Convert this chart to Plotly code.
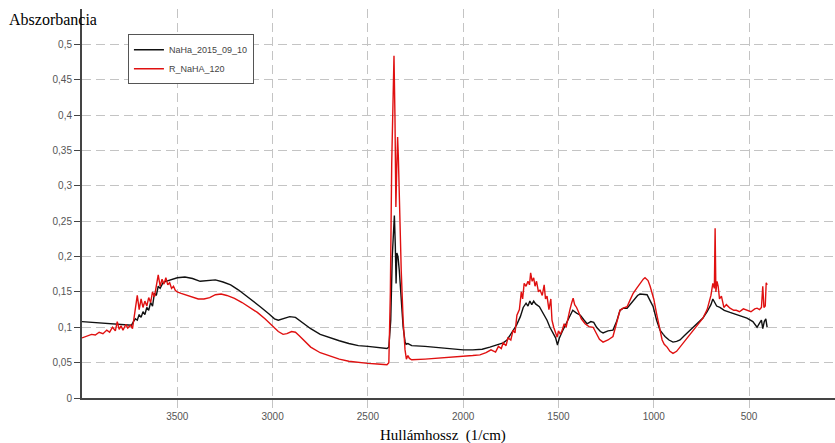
import plotly.graph_objects as go

# ---- data ----
black_x = [4000, 3950, 3900, 3850, 3800, 3760, 3740, 3730, 3720, 3710, 3700, 3690, 3680, 3670, 3660, 3650,
           3640, 3630, 3620, 3610, 3600, 3590, 3575, 3560, 3540, 3500, 3460, 3420, 3380, 3340, 3300, 3260,
           3220, 3180, 3140, 3100, 3060, 3020, 2990, 2970, 2940, 2910, 2880, 2850, 2800, 2750, 2700, 2650,
           2600, 2550, 2500, 2450, 2400, 2390, 2380, 2372, 2365, 2361, 2356, 2352, 2348, 2342, 2335, 2325,
           2315, 2305, 2300, 2290, 2270, 2200, 2100, 2000, 1950, 1900, 1860, 1820, 1790, 1770, 1745, 1720,
           1700, 1685, 1670, 1660, 1650, 1640, 1630, 1620, 1600, 1580, 1560, 1545, 1530, 1515, 1505, 1495,
           1480, 1460, 1440, 1425, 1405, 1385, 1365, 1350, 1330, 1315, 1300, 1280, 1266, 1240, 1214, 1195,
           1177, 1160, 1140, 1120, 1108, 1085, 1072, 1050, 1035, 1020, 1003, 985, 967, 950, 941, 920,
           899, 880, 862, 840, 810, 780, 742, 720, 700, 690, 680, 670, 653, 630, 600, 560,
           511, 480, 458, 445, 435, 428, 420, 412, 405]
black_y = [0.108, 0.107, 0.106, 0.105, 0.104, 0.104, 0.103, 0.108, 0.112, 0.110, 0.118, 0.114, 0.122, 0.118, 0.128, 0.124,
           0.135, 0.130, 0.148, 0.145, 0.158, 0.155, 0.163, 0.165, 0.167, 0.170, 0.171, 0.169, 0.165, 0.166, 0.167, 0.164,
           0.160, 0.153, 0.145, 0.137, 0.128, 0.119, 0.112, 0.110, 0.113, 0.115, 0.114, 0.108, 0.098, 0.090, 0.085, 0.081,
           0.077, 0.074, 0.073, 0.071, 0.070, 0.072, 0.110, 0.200, 0.250, 0.258, 0.215, 0.162, 0.205, 0.200, 0.180, 0.140,
           0.100, 0.080, 0.076, 0.077, 0.074, 0.073, 0.070, 0.068, 0.068, 0.069, 0.072, 0.075, 0.078, 0.082, 0.092, 0.103,
           0.115, 0.128, 0.134, 0.130, 0.137, 0.132, 0.137, 0.133, 0.129, 0.120, 0.110, 0.100, 0.092, 0.085, 0.075, 0.085,
           0.094, 0.105, 0.118, 0.124, 0.120, 0.117, 0.110, 0.105, 0.108, 0.107, 0.100, 0.094, 0.092, 0.095, 0.096, 0.108,
           0.124, 0.127, 0.127, 0.134, 0.138, 0.145, 0.147, 0.147, 0.146, 0.138, 0.129, 0.110, 0.096, 0.090, 0.087, 0.082,
           0.079, 0.080, 0.082, 0.088, 0.096, 0.104, 0.113, 0.122, 0.132, 0.140, 0.135, 0.130, 0.128, 0.124, 0.121, 0.117,
           0.113, 0.108, 0.100, 0.106, 0.110, 0.098, 0.108, 0.112, 0.100]

red_x = [4000, 3975, 3950, 3930, 3910, 3890, 3870, 3855, 3840, 3825, 3815, 3805, 3795, 3785, 3770, 3760,
         3745, 3735, 3725, 3715, 3710, 3700, 3690, 3680, 3670, 3660, 3650, 3640, 3630, 3620, 3610, 3600,
         3590, 3580, 3570, 3560, 3550, 3540, 3530, 3520, 3510, 3500, 3480, 3450, 3420, 3390, 3360, 3330,
         3300, 3270, 3240, 3200, 3160, 3120, 3080, 3040, 3000, 2970, 2945, 2925, 2900, 2880, 2860, 2830,
         2800, 2750, 2700, 2650, 2600, 2550, 2500, 2450, 2400, 2390, 2382, 2375, 2368, 2363, 2358, 2353,
         2348, 2344, 2340, 2333, 2325, 2315, 2305, 2298, 2290, 2282, 2270, 2200, 2100, 2050, 2000, 1950,
         1912, 1880, 1854, 1830, 1815, 1800, 1790, 1775, 1765, 1750, 1738, 1728, 1718, 1705, 1695, 1688,
         1680, 1670, 1660, 1652, 1646, 1638, 1630, 1623, 1615, 1605, 1597, 1585, 1575, 1568, 1560, 1550,
         1540, 1534, 1525, 1515, 1507, 1500, 1490, 1480, 1470, 1460, 1450, 1440, 1430, 1423, 1415, 1405,
         1395, 1380, 1360, 1340, 1318, 1300, 1285, 1266, 1240, 1214, 1195, 1177, 1160, 1140, 1125, 1108,
         1090, 1072, 1055, 1046, 1030, 1019, 1000, 985, 970, 956, 945, 930, 915, 899, 880, 862,
         840, 810, 780, 742, 720, 700, 690, 682, 678, 674, 668, 662, 655, 645, 632, 619,
         600, 580, 567, 550, 530, 511, 490, 470, 458, 445, 435, 428, 422, 415, 410, 405]
red_y = [0.085, 0.087, 0.090, 0.089, 0.093, 0.091, 0.096, 0.093, 0.100, 0.095, 0.108, 0.097, 0.102, 0.096, 0.104, 0.099,
         0.103, 0.098, 0.118, 0.132, 0.145, 0.125, 0.140, 0.128, 0.137, 0.130, 0.142, 0.135, 0.150, 0.143, 0.160, 0.174,
         0.158, 0.168, 0.161, 0.170, 0.160, 0.163, 0.155, 0.158, 0.152, 0.150, 0.148, 0.145, 0.142, 0.140, 0.140, 0.142,
         0.146, 0.147, 0.145, 0.141, 0.135, 0.128, 0.121, 0.112, 0.102, 0.094, 0.090, 0.091, 0.094, 0.093, 0.088, 0.080,
         0.072, 0.064, 0.059, 0.055, 0.052, 0.050, 0.049, 0.048, 0.047, 0.050, 0.150, 0.330, 0.440, 0.484, 0.400, 0.270,
         0.330, 0.369, 0.340, 0.260, 0.180, 0.110, 0.068, 0.055, 0.060, 0.056, 0.054, 0.055, 0.057, 0.058, 0.058, 0.060,
         0.061, 0.064, 0.068, 0.065, 0.073, 0.070, 0.078, 0.074, 0.085, 0.082, 0.096, 0.092, 0.117, 0.125, 0.150, 0.140,
         0.162, 0.158, 0.165, 0.160, 0.177, 0.165, 0.170, 0.158, 0.165, 0.150, 0.153, 0.145, 0.160, 0.140, 0.144, 0.125,
         0.140, 0.110, 0.100, 0.092, 0.086, 0.095, 0.090, 0.096, 0.105, 0.100, 0.115, 0.125, 0.135, 0.141, 0.132, 0.128,
         0.122, 0.112, 0.105, 0.101, 0.100, 0.090, 0.083, 0.079, 0.082, 0.087, 0.105, 0.124, 0.127, 0.129, 0.138, 0.148,
         0.155, 0.162, 0.168, 0.170, 0.166, 0.158, 0.140, 0.119, 0.100, 0.082, 0.076, 0.072, 0.066, 0.063, 0.066, 0.072,
         0.080, 0.089, 0.100, 0.113, 0.125, 0.145, 0.162, 0.155, 0.240, 0.150, 0.165, 0.158, 0.140, 0.144, 0.128, 0.132,
         0.127, 0.124, 0.124, 0.122, 0.126, 0.124, 0.122, 0.126, 0.127, 0.125, 0.128, 0.158, 0.128, 0.130, 0.163, 0.160]

x_tickvals = [3500, 3000, 2500, 2000, 1500, 1000, 500]
x_ticktext = ["3500", "3000", "2500", "2000", "1500", "1000", "500"]
y_tickvals = [0, 0.05, 0.1, 0.15, 0.2, 0.25, 0.3, 0.35, 0.4, 0.45, 0.5]
y_ticktext = ["0", "0,05", "0,1", "0,15", "0,2", "0,25", "0,3", "0,35", "0,4", "0,45", "0,5"]

fig = go.Figure()
fig.add_trace(go.Scatter(x=black_x, y=black_y, mode="lines", name="NaHa_2015_09_10",
                         line=dict(color="#111111", width=1.4)))
fig.add_trace(go.Scatter(x=red_x, y=red_y, mode="lines", name="R_NaHA_120",
                         line=dict(color="#e01010", width=1.4)))

tickfont = dict(family="Liberation Sans, Arial, sans-serif", size=10, color="#555555")
fig.update_layout(
    width=835, height=443,
    margin=dict(l=82, r=0, t=9, b=45),
    paper_bgcolor="white", plot_bgcolor="white",
    showlegend=True,
    legend=dict(x=0.061, y=0.935, xanchor="left", yanchor="top",
                bgcolor="white", bordercolor="#555555", borderwidth=1,
                font=dict(family="Liberation Sans, Arial, sans-serif", size=9, color="#444444"),
                tracegroupgap=0, itemwidth=30),
    xaxis=dict(range=[4000, 49], tickvals=x_tickvals, ticktext=x_ticktext,
               showgrid=True, gridcolor="#c4c4c4", griddash="9px,5px", gridwidth=1,
               showline=True, linecolor="#444444", linewidth=2,
               ticks="outside", ticklen=8, tickcolor="#c4c4c4",
               tickfont=tickfont, zeroline=False),
    yaxis=dict(range=[0, 0.55], tickvals=y_tickvals, ticktext=y_ticktext,
               showgrid=True, gridcolor="#c4c4c4", griddash="9px,5px", gridwidth=1,
               showline=True, linecolor="#444444", linewidth=2,
               ticks="outside", ticklen=6, tickcolor="#444444",
               tickfont=tickfont, zeroline=False),
    annotations=[
        dict(text="Abszorbancia", xref="paper", yref="paper", x=-0.1, y=1.0,
             xanchor="left", yanchor="middle", yshift=-10, showarrow=False,
             font=dict(family="Liberation Serif, Times New Roman, serif", size=16, color="black")),
        dict(text="Hullámhossz  (1/cm)", xref="paper", yref="paper", x=0.48, y=0,
             xanchor="center", yanchor="middle", yshift=-37, showarrow=False,
             font=dict(family="Liberation Serif, Times New Roman, serif", size=15, color="black")),
    ],
)

fig.write_html("out.html")
